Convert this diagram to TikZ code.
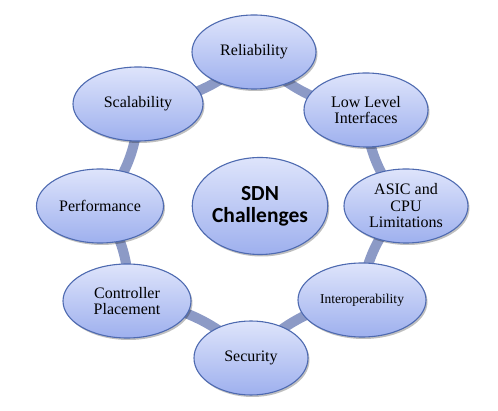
\documentclass[tikz,border=0pt]{standalone}
\usepackage{fontspec}
\setmainfont{Liberation Serif}
\newfontfamily\hubfont{Carlito}
\usetikzlibrary{shapes.geometric}
\usetikzlibrary{shadows}
\usetikzlibrary{backgrounds}
\definecolor{ringblue}{RGB}{140,154,198}
\definecolor{edgeblue}{RGB}{78,106,176}
\definecolor{topblue}{RGB}{222,228,251}
\definecolor{botblue}{RGB}{158,176,238}

\begin{document}
\begin{tikzpicture}[x=1pt, y=1pt,
      challenge/.style={ellipse, draw=edgeblue, line width=1.1pt,
          top color=topblue, bottom color=botblue, minimum width=124pt,
          minimum height=74pt, inner sep=0pt, align=center,
          font=\rmfamily\fontsize{16}{16.5}\selectfont,
          drop shadow={shadow xshift=1.5pt, shadow yshift=-2pt, opacity=0.25, fill=black}},
      hub/.style={challenge, minimum width=134pt, minimum height=97pt,
          font=\hubfont\bfseries\fontsize{21.5}{22}\selectfont},
      ring/.style={draw=ringblue, line width=10pt, bend right=22.5, looseness=0.9},
      ]
        \useasboundingbox (-253,-206) rectangle (245,205);

        \node[hub] (0) at (7,-1) {SDN\\Challenges};

        \node[challenge] (1) at (1, 153) {Reliability};
        \node[challenge] (2) at (113, 95) {Low Level\\Interfaces};
        \node[challenge] (3) at (153, -1) {ASIC and\\CPU\\Limitations};
        \node[challenge, minimum width=128pt, font=\rmfamily\fontsize{13.5}{15}\selectfont] (4) at (109, -95) {Interoperability};
        \node[challenge, minimum width=114pt] (5) at (-2, -153) {Security};
        \node[challenge, minimum width=128pt] (6) at (-126, -96) {Controller\\Placement};
        \node[challenge, minimum width=127pt] (7) at (-153, -1) {Performance};
        \node[challenge, minimum width=130pt] (8) at (-115, 101) {Scalability};

        \begin{scope}[on background layer]
          \foreach \source/\target in {1/2, 2/3, 3/4, 4/5, 5/6, 6/7, 7/8, 8/1}
            \draw[ring] (\source.center) to (\target.center);
        \end{scope}

\end{tikzpicture}
\end{document}
